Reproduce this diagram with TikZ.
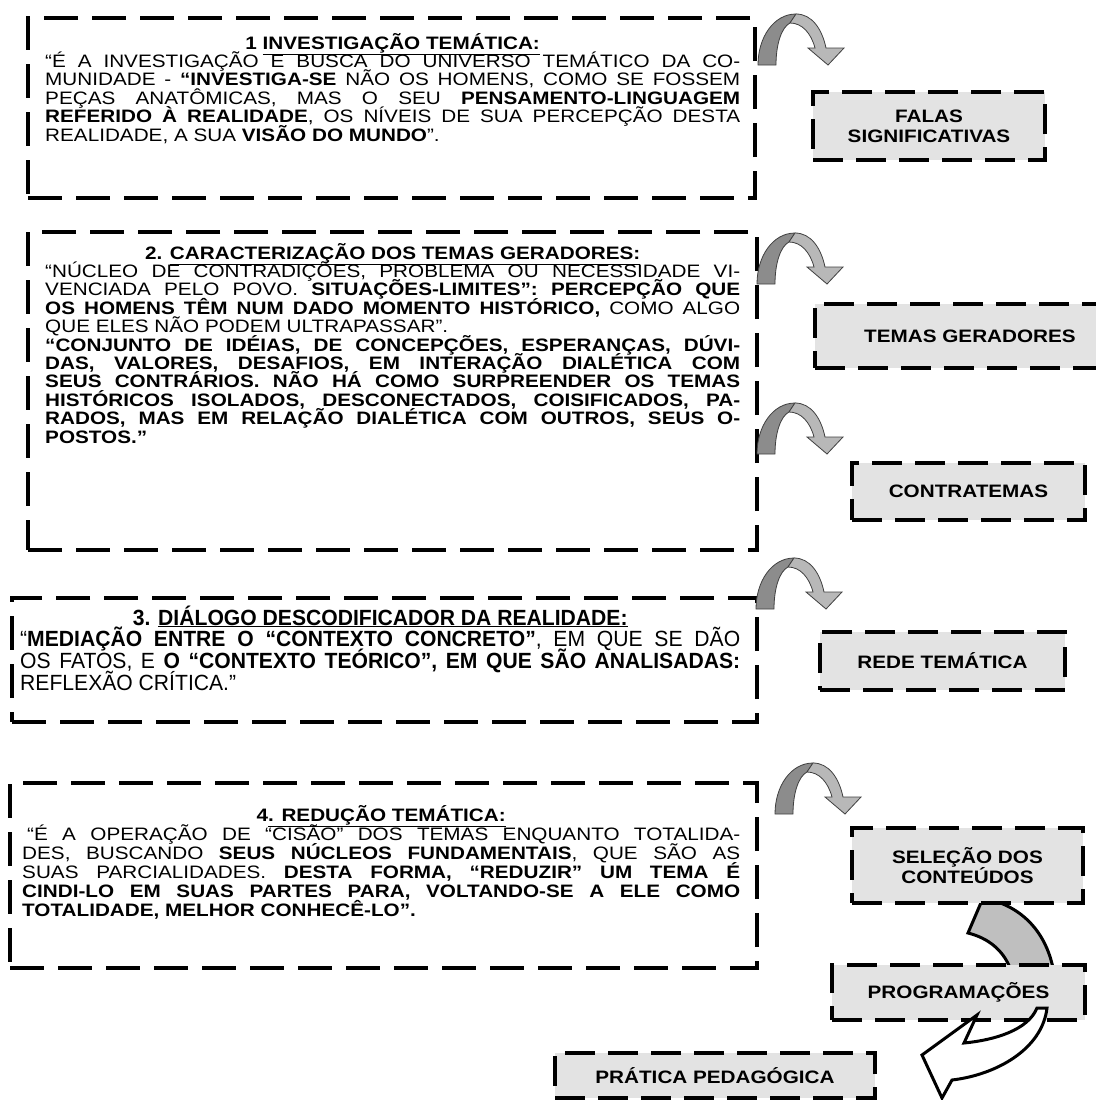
\documentclass[tikz,border=0pt]{standalone}
\usepackage{fontspec}
\setmainfont{Liberation Sans}[FakeStretch=1.15]
\newfontfamily\narrowfont[FakeStretch=0.96]{Liberation Sans}
\usetikzlibrary{positioning}
\tolerance=10000 \hbadness=10000 \hyphenpenalty=10000 \exhyphenpenalty=10000
\newcommand\bodylines[1]{\baselineskip=#1\lineskiplimit=-50pt\relax}

\begin{document}
\begin{tikzpicture}[x=1pt,y=1pt,
frame/.style={draw,line width=4.5pt,dash pattern=on 34pt off 14pt,fill=white,inner sep=0pt},
tag/.style={draw,line width=4pt,dash pattern=on 30pt off 13pt,fill=black!11,inner sep=0pt,align=center,
  font=\fontsize{18}{20}\selectfont\bfseries},
body/.style={anchor=base west,inner sep=0pt,align=justify,font=\fontsize{18}{18.4}\selectfont},
bendarr/.pic={
  \filldraw[black!45,draw=black!75,line width=.8pt] (0,0) .. controls (0,28) and (16,51) .. (38,51)
    -- (32,42) .. controls (24,38) and (18,22) .. (18,0) -- cycle;
  \filldraw[black!28,draw=black!75,line width=.8pt] (38,51) .. controls (54,51) and (64,36) .. (68,17)
    -- (86,17) -- (70,0) -- (50,17) -- (57,17) .. controls (53,32) and (44,42) .. (32,42) -- cycle;
}]
\useasboundingbox (0,0) rectangle (1095,-1100);
% the four stages
\node[frame,minimum width=727pt,minimum height=180pt] (b1) at (391.5,-108) {};
\node[frame,minimum width=729pt,minimum height=318pt] (b2) at (392.5,-391) {};
\node[frame,minimum width=745pt,minimum height=124pt] (b3) at (384.5,-660) {};
\node[frame,minimum width=747pt,minimum height=185pt] (b4) at (383.5,-875.5) {};
\node[body,text width=695pt] (d1) at (45,-49) {\bodylines{18.4pt}\makebox[\linewidth]{\bfseries 1 \underline{INVESTIGAÇÃO TEMÁTICA:}}\par
“É A INVESTIGAÇÃO E BUSCA DO UNIVERSO TEMÁTICO DA CO-\linebreak
MUNIDADE - \textbf{“INVESTIGA-SE} NÃO OS HOMENS, COMO SE FOSSEM\linebreak
PEÇAS ANATÔMICAS, MAS O SEU \textbf{PENSAMENTO-LINGUAGEM}\linebreak
\textbf{REFERIDO À REALIDADE}, OS NÍVEIS DE SUA PERCEPÇÃO DESTA\linebreak
REALIDADE, A SUA \textbf{VISÃO DO MUNDO}”.\par};
\node[body,text width=695pt] (d2) at (45,-259) {\bodylines{18.4pt}\makebox[\linewidth]{\bfseries 2. \underline{CARACTERIZAÇÃO DOS TEMAS GERADORES:}}\par
“NÚCLEO DE CONTRADIÇÕES, PROBLEMA OU NECESSIDADE VI-\linebreak
VENCIADA PELO POVO. \textbf{SITUAÇÕES-LIMITES”: PERCEPÇÃO QUE}\linebreak
\textbf{OS HOMENS TÊM NUM DADO MOMENTO HISTÓRICO,} COMO ALGO\linebreak
QUE ELES NÃO PODEM ULTRAPASSAR”.\par
\bfseries “CONJUNTO DE IDÉIAS, DE CONCEPÇÕES, ESPERANÇAS, DÚVI-\linebreak
DAS, VALORES, DESAFIOS, EM INTERAÇÃO DIALÉTICA COM\linebreak
SEUS CONTRÁRIOS. NÃO HÁ COMO SURPREENDER OS TEMAS\linebreak
HISTÓRICOS ISOLADOS, DESCONECTADOS, COISIFICADOS, PA-\linebreak
RADOS, MAS EM RELAÇÃO DIALÉTICA COM OUTROS, SEUS O-\linebreak
POSTOS.”\par};
\node[body,text width=720pt,font=\narrowfont\fontsize{22}{21.8}\selectfont] (d3) at (20,-625) {\bodylines{21.8pt}\makebox[\linewidth]{\bfseries 3. \underline{DIÁLOGO DESCODIFICADOR DA REALIDADE:}}\par
“\textbf{MEDIAÇÃO ENTRE O “CONTEXTO CONCRETO”}, EM QUE SE DÃO\linebreak
OS FATOS, E \textbf{O “CONTEXTO TEÓRICO”, EM QUE SÃO ANALISADAS:}\linebreak
REFLEXÃO CRÍTICA.”\par};
\node[body,text width=718pt] (d4) at (22,-821) {\bodylines{19pt}\makebox[\linewidth]{\bfseries 4\underline{. REDUÇÃO TEMÁTICA:}}\par
\hspace*{5pt}“É A OPERAÇÃO DE “CISÃO” DOS TEMAS ENQUANTO TOTALIDA-\linebreak
DES, BUSCANDO \textbf{SEUS NÚCLEOS FUNDAMENTAIS}, QUE SÃO AS\linebreak
SUAS PARCIALIDADES. \textbf{DESTA FORMA, “REDUZIR” UM TEMA É}\linebreak
\textbf{CINDI-LO EM SUAS PARTES PARA, VOLTANDO-SE A ELE COMO}\linebreak
\textbf{TOTALIDADE, MELHOR CONHECÊ-LO”.}\par};
% grey block arrow behind the boxes
\filldraw[fill=black!25,line width=3pt] (968,-933) -- (983,-898) .. controls (1020,-905) and (1045,-930) .. (1053,-968)
  -- (1010,-968) .. controls (1003,-950) and (988,-938) .. (968,-933) -- cycle;
% results
\node[tag,minimum width=232pt,minimum height=68pt] (fal) at (929,-126) {FALAS\\SIGNIFICATIVAS};
\node[tag,minimum width=310pt,minimum height=64pt] (tem) at (970,-336) {TEMAS GERADORES};
\node[tag,minimum width=233pt,minimum height=57pt] (con) at (968.5,-491.5) {CONTRATEMAS};
\node[tag,minimum width=245pt,minimum height=58pt] (red) at (942.5,-661) {REDE TEMÁTICA};
\node[tag,minimum width=231pt,minimum height=75pt] (sel) at (967.5,-865.5) {SELEÇÃO DOS\\CONTEÚDOS};
\node[tag,minimum width=253pt,minimum height=55pt] (pro) at (958.5,-992.5) {PROGRAMAÇÕES};
\node[tag,minimum width=320pt,minimum height=45pt] (pra) at (715,-1075.5) {PRÁTICA PEDAGÓGICA};
\filldraw[fill=white,line width=3pt] (1047,-1008) .. controls (1042,-1050) and (995,-1075) .. (952,-1080)
  -- (942,-1098) -- (922,-1055) -- (977,-1015) -- (964,-1043) .. controls (995,-1040) and (1028,-1030) .. (1037,-1008) -- cycle;
% curved arrows
\pic at (758,-65) {bendarr};
\pic at (757,-284) {bendarr};
\pic at (757,-454) {bendarr};
\pic at (756,-609) {bendarr};
\pic at (775,-814) {bendarr};
\end{tikzpicture}
\end{document}
